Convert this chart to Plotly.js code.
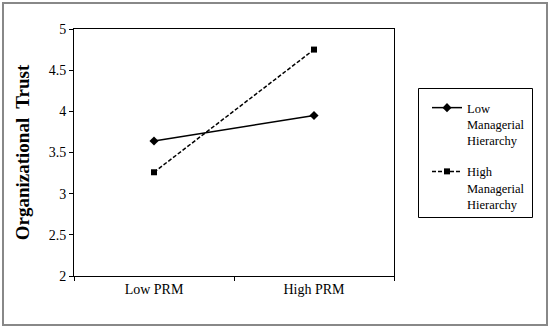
<!DOCTYPE html>
<html><head><meta charset="utf-8">
<script src="https://cdn.plot.ly/plotly-3.0.1.min.js"></script>
<style>html,body{margin:0;padding:0;background:#fff}#chart{width:550px;height:328px}</style>
</head><body><div id="chart"></div>
<script>
const categories = ["Low PRM", "High PRM"];
const lowHierarchy = [3.64, 3.95];
const highHierarchy = [3.26, 4.75];
const seriesNames = ["Low<br>Managerial<br>Hierarchy", "High<br>Managerial<br>Hierarchy"];
const yTicks = [2, 2.5, 3, 3.5, 4, 4.5, 5];

const L = 74, R = 156, T = 29, B = 52, W = 550, H = 328;
const pw = W - L - R, ph = H - T - B;
const serif = "Liberation Serif";
const px = v => (v - L) / pw;
const py = v => (H - B - v) / ph;

const traces = [
  {x: categories, y: lowHierarchy, name: seriesNames[0], type: "scatter", mode: "lines+markers",
   line: {color: "#000", width: 1.5}, marker: {symbol: "diamond", size: 7, color: "#000"}, legendgroup: "a"},
  {x: categories, y: highHierarchy, name: seriesNames[1], type: "scatter", mode: "lines+markers",
   line: {color: "#000", width: 1.5, dash: "4px,2px"}, marker: {symbol: "square", size: 6, color: "#000"}, legendgroup: "b"}
];

const layout = {
  width: W, height: H,
  margin: {l: L, r: R, t: T, b: B},
  paper_bgcolor: "#fff", plot_bgcolor: "#fff",
  font: {family: serif, color: "#000", size: 14},
  showlegend: true,
  legend: {x: px(427), y: py(93), xanchor: "left", yanchor: "top",
           borderwidth: 0, bgcolor: "rgba(0,0,0,0)",
           font: {family: serif, size: 12.5, color: "#000"},
           traceorder: "grouped", tracegroupgap: 12, valign: "top", itemwidth: 30},
  xaxis: {type: "category", range: [-0.5, 1.5], showline: true, linecolor: "#000", linewidth: 1,
          mirror: true, ticks: "outside", ticklen: 4, tickcolor: "#000", tickson: "boundaries",
          showgrid: false, zeroline: false, tickfont: {family: serif, size: 14, color: "#000"}, fixedrange: true},
  yaxis: {range: [2, 5], tickvals: yTicks, ticktext: yTicks.map(String), showline: true, linecolor: "#000",
          linewidth: 1, mirror: true, ticks: "outside", ticklen: 4, tickcolor: "#000", showgrid: false,
          zeroline: false, tickfont: {family: serif, size: 14, color: "#000"},
          title: {text: "Organizational  Trust", font: {family: serif, size: 19, weight: "bold"}, standoff: 14}},
  shapes: [
    {type: "rect", xref: "paper", yref: "paper", x0: px(3), x1: px(547), y0: py(325), y1: py(3),
     line: {color: "#888", width: 2}, layer: "below"},
    {type: "rect", xref: "paper", yref: "paper", x0: px(418.5), x1: px(532.5), y0: py(217.5), y1: py(88.5),
     line: {color: "#000", width: 1}, layer: "below"}
  ]
};
Plotly.newPlot("chart", traces, layout, {displayModeBar: false, staticPlot: true});
</script></body></html>
